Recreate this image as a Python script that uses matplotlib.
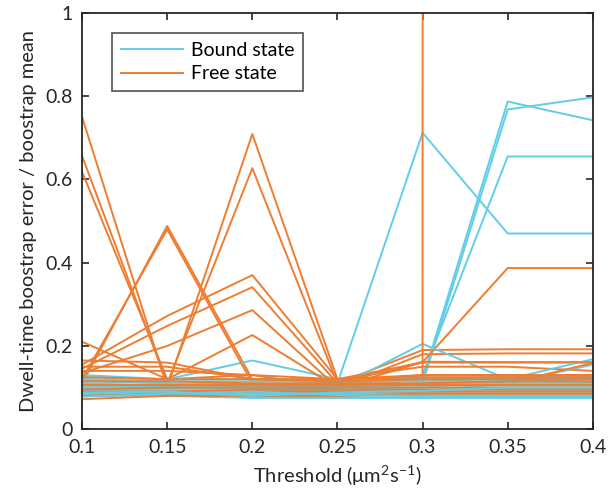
import matplotlib.pyplot as plt
import numpy as np

thresholds = [0.1, 0.15, 0.2, 0.25, 0.3, 0.35, 0.4]

# bound state series (relative bootstrap error per threshold)
bound = [
    [0.100, 0.090, 0.090, 0.110, 0.712, 0.470, 0.470],
    [0.120, 0.110, 0.100, 0.100, 0.120, 0.787, 0.742],
    [0.110, 0.100, 0.100, 0.090, 0.110, 0.768, 0.797],
    [0.090, 0.090, 0.080, 0.100, 0.130, 0.655, 0.655],
    [0.130, 0.120, 0.165, 0.120, 0.120, 0.120, 0.120],
    [0.100, 0.100, 0.090, 0.100, 0.205, 0.120, 0.110],
    [0.095, 0.090, 0.085, 0.090, 0.100, 0.120, 0.168],
    [0.085, 0.080, 0.080, 0.080, 0.090, 0.110, 0.155],
    [0.080, 0.080, 0.075, 0.075, 0.075, 0.075, 0.075],
    [0.085, 0.085, 0.080, 0.080, 0.080, 0.080, 0.080],
    [0.090, 0.090, 0.085, 0.085, 0.085, 0.085, 0.085],
    [0.095, 0.095, 0.090, 0.090, 0.090, 0.090, 0.090],
    [0.100, 0.100, 0.095, 0.095, 0.095, 0.095, 0.095],
    [0.105, 0.100, 0.100, 0.100, 0.100, 0.100, 0.100],
    [0.110, 0.105, 0.105, 0.105, 0.105, 0.105, 0.105],
    [0.115, 0.110, 0.110, 0.110, 0.110, 0.110, 0.110],
    [0.120, 0.115, 0.115, 0.115, 0.115, 0.115, 0.120],
    [0.125, 0.120, 0.120, 0.120, 0.120, 0.125, 0.125],
    [0.078, 0.085, 0.090, 0.082, 0.080, 0.078, 0.078],
    [0.088, 0.090, 0.080, 0.088, 0.092, 0.100, 0.100],
]

# free state series
free = [
    [0.750, 0.100, 0.709, 0.120, 0.160, 0.160, 0.160],
    [0.656, 0.110, 0.627, 0.110, 0.190, 0.192, 0.192],
    [0.618, 0.120, 0.130, 0.100, 0.180, 0.182, 0.182],
    [0.110, 0.488, 0.120, 0.110, 0.120, 0.120, 0.120],
    [0.120, 0.480, 0.110, 0.100, 0.161, 0.387, 0.387],
    [0.155, 0.272, 0.370, 0.120, 0.150, 0.150, 0.140],
    [0.145, 0.248, 0.341, 0.110, 0.130, 0.130, 0.130],
    [0.135, 0.200, 0.286, 0.100, 0.120, 0.110, 0.159],
    [0.210, 0.120, 0.226, 0.100, 0.110, 0.110, 0.110],
    [0.100, 0.100, 0.100, 0.108, 0.108, 1000.0, 1000.0],
    [0.165, 0.160, 0.120, 0.110, 0.162, 0.161, 0.161],
    [0.072, 0.080, 0.080, 0.080, 0.085, 0.085, 0.085],
    [0.080, 0.085, 0.090, 0.090, 0.090, 0.090, 0.090],
    [0.090, 0.090, 0.095, 0.095, 0.095, 0.095, 0.095],
    [0.095, 0.100, 0.100, 0.100, 0.100, 0.100, 0.100],
    [0.105, 0.105, 0.105, 0.105, 0.105, 0.105, 0.105],
    [0.115, 0.115, 0.110, 0.110, 0.110, 0.115, 0.115],
    [0.125, 0.120, 0.120, 0.115, 0.120, 0.120, 0.120],
    [0.140, 0.140, 0.130, 0.120, 0.125, 0.125, 0.125],
    [0.150, 0.150, 0.120, 0.120, 0.130, 0.130, 0.130],
]

blue = '#62CDE8'
orange = '#EE7D31'

plt.rcParams['font.family'] = ['Lato', 'DejaVu Sans']
plt.rcParams['mathtext.fontset'] = 'custom'
plt.rcParams['mathtext.rm'] = 'Lato'
plt.rcParams['mathtext.default'] = 'regular'

fig = plt.figure(figsize=(6.08, 4.95), dpi=100)
ax = fig.add_axes([0.135, 0.133, 0.84, 0.841])

# interleave so neither colour sits entirely on top
n = max(len(bound), len(free))
for i in range(n):
    if i < len(bound):
        ax.plot(thresholds, bound[i], color=blue, lw=1.4,
                label='Bound state' if i == 0 else None)
    if i < len(free):
        ax.plot(thresholds, free[i], color=orange, lw=1.4,
                label='Free state' if i == 0 else None)

ax.set_xlim(0.1, 0.4)
ax.set_ylim(0, 1)
ax.set_xticks(thresholds)
ax.set_xticklabels(['0.1', '0.15', '0.2', '0.25', '0.3', '0.35', '0.4'])
ax.set_yticks([0, 0.2, 0.4, 0.6, 0.8, 1])
ax.set_yticklabels(['0', '0.2', '0.4', '0.6', '0.8', '1'])
ax.tick_params(direction='in', top=True, right=True, length=5, width=1.2,
               labelsize=14, colors='#262626', pad=7)
for sp in ax.spines.values():
    sp.set_linewidth(1.3)
    sp.set_color('#262626')

ax.set_xlabel('Threshold (μm$^2$s$^{-1}$)', fontsize=14.5, color='#262626',
              labelpad=6)
ax.set_ylabel('Dwell-time boostrap error / boostrap mean', fontsize=14.5,
              color='#262626', labelpad=6)

leg = ax.legend(loc='upper left', bbox_to_anchor=(0.059, 0.952), fontsize=14,
                frameon=True, fancybox=False, borderaxespad=0,
                handlelength=3.2, borderpad=0.45, labelspacing=0.35,
                handletextpad=0.4)
leg.get_frame().set_edgecolor('#262626')
leg.get_frame().set_linewidth(1.2)

fig.savefig('out.png', dpi=100)
